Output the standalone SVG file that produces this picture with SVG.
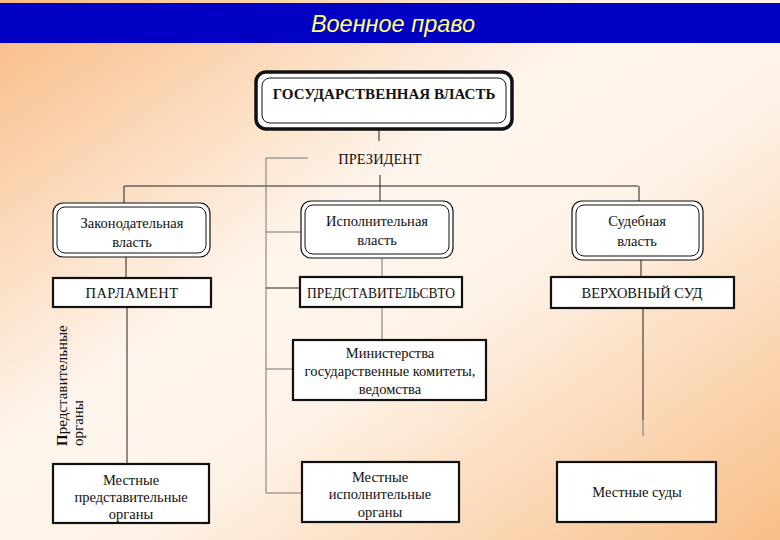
<svg xmlns="http://www.w3.org/2000/svg" width="780" height="540" viewBox="0 0 780 540">
<defs>
<linearGradient id="bg" x1="0" y1="0" x2="1" y2="1">
<stop offset="0" stop-color="#F8BA82"/>
<stop offset="0.42" stop-color="#FEF6EE"/>
<stop offset="0.58" stop-color="#FEF3E8"/>
<stop offset="1" stop-color="#F8BF88"/>
</linearGradient>
<style>
.t{font-family:"Liberation Serif","DejaVu Serif",serif;font-size:14.5px;fill:#111;text-anchor:middle}
.tb{font-family:"Liberation Serif","DejaVu Serif",serif;font-size:15px;font-weight:bold;fill:#111;text-anchor:middle}
.o{fill:#fff;stroke:#111;stroke-width:1.2}
.i{fill:none;stroke:#111;stroke-width:1}
.b{fill:#fff;stroke:#111;stroke-width:2.2}
.c{fill:none;stroke:#222;stroke-width:1}
.g{fill:none;stroke:#777;stroke-width:1}
</style>
</defs>
<rect x="0" y="0" width="780" height="540" fill="url(#bg)"/>
<rect x="0" y="3" width="780" height="40" fill="#0000C4"/>
<text x="393" y="32" font-family="Liberation Sans, Arial, sans-serif" font-size="23.5" font-style="italic" fill="#FFFF70" text-anchor="middle">Военное право</text>

<g id="connectors">
<path class="c" d="M379 129V141"/>
<path class="c" d="M380 175V201"/>
<path class="c" d="M124 186H638"/>
<path class="c" d="M124 186V203"/>
<path class="c" d="M639 186V201"/>
<path class="c" d="M126 257V278"/>
<path class="c" d="M127 307V464"/>
<path class="g" d="M382 258V277"/>
<path class="g" d="M382 307V340"/>
<path class="c" d="M641 260V277"/>
<path class="c" d="M643 308V420"/>
<path class="g" d="M643 420V436"/>
<path class="g" d="M308 158H266V493H302"/>
<path class="g" d="M266 232H301"/>
<path class="c" d="M266 288H300"/>
<path class="g" d="M266 369H293"/>
</g>

<g id="gov">
<rect x="256" y="72" width="256" height="57" rx="10" fill="#fff" stroke="#111" stroke-width="3.5"/>
<rect x="262" y="78" width="244" height="45" rx="8" class="i"/>
<text class="tb" x="384" y="99">ГОСУДАРСТВЕННАЯ ВЛАСТЬ</text>
</g>
<g id="president">
<text class="t" x="380" y="164">ПРЕЗИДЕНТ</text>
</g>

<g id="leg">
<rect x="53" y="203" width="157" height="54" rx="10" class="o"/>
<rect x="57" y="207" width="149" height="46" rx="8" class="i"/>
<text class="t" x="132" y="228">Законодательная</text>
<text class="t" x="132" y="247">власть</text>
</g>
<g id="exec">
<rect x="301" y="201" width="152" height="57" rx="10" class="o"/>
<rect x="305" y="205" width="144" height="49" rx="8" class="i"/>
<text class="t" x="377" y="226">Исполнительная</text>
<text class="t" x="377" y="245">власть</text>
</g>
<g id="jud">
<rect x="572" y="201" width="131" height="59" rx="10" class="o"/>
<rect x="576" y="205" width="123" height="51" rx="8" class="i"/>
<text class="t" x="637" y="226">Судебная</text>
<text class="t" x="637" y="246">власть</text>
</g>

<g id="parl">
<rect x="53" y="278" width="158" height="29" class="b"/>
<text class="t" x="132" y="298" letter-spacing="0.4">ПАРЛАМЕНТ</text>
</g>
<g id="repr">
<rect x="300" y="277" width="162" height="30" class="b"/>
<text class="t" x="381" y="298" textLength="148" lengthAdjust="spacingAndGlyphs">ПРЕДСТАВИТЕЛЬСВТО</text>
</g>
<g id="supreme">
<rect x="551" y="277" width="183" height="31" class="b"/>
<text class="t" x="642" y="298">ВЕРХОВНЫЙ СУД</text>
</g>

<g id="ministries">
<rect x="293" y="340" width="193" height="60" class="b"/>
<text class="t" x="390" y="358">Министерства</text>
<text class="t" x="390" y="376">государственные комитеты,</text>
<text class="t" x="390" y="394">ведомства</text>
</g>

<g id="local-repr">
<rect x="53" y="464" width="156" height="59" class="b"/>
<text class="t" x="131" y="485">Местные</text>
<text class="t" x="131" y="502">представительные</text>
<text class="t" x="131" y="519">органы</text>
</g>
<g id="local-exec">
<rect x="302" y="462" width="157" height="60" class="b"/>
<text class="t" x="380" y="482">Местные</text>
<text class="t" x="380" y="499">исполнительные</text>
<text class="t" x="380" y="517">органы</text>
</g>
<g id="local-courts">
<rect x="557" y="462" width="159" height="60" class="b"/>
<text class="t" x="637" y="497">Местные суды</text>
</g>

<g id="side-label">
<text font-family="Liberation Serif, DejaVu Serif, serif" font-size="15" fill="#111" transform="translate(67 446) rotate(-90)"><tspan font-weight="bold">П</tspan>редставительные</text>
<text font-family="Liberation Serif, DejaVu Serif, serif" font-size="15" fill="#111" transform="translate(83 446) rotate(-90)">органы</text>
</g>
</svg>
